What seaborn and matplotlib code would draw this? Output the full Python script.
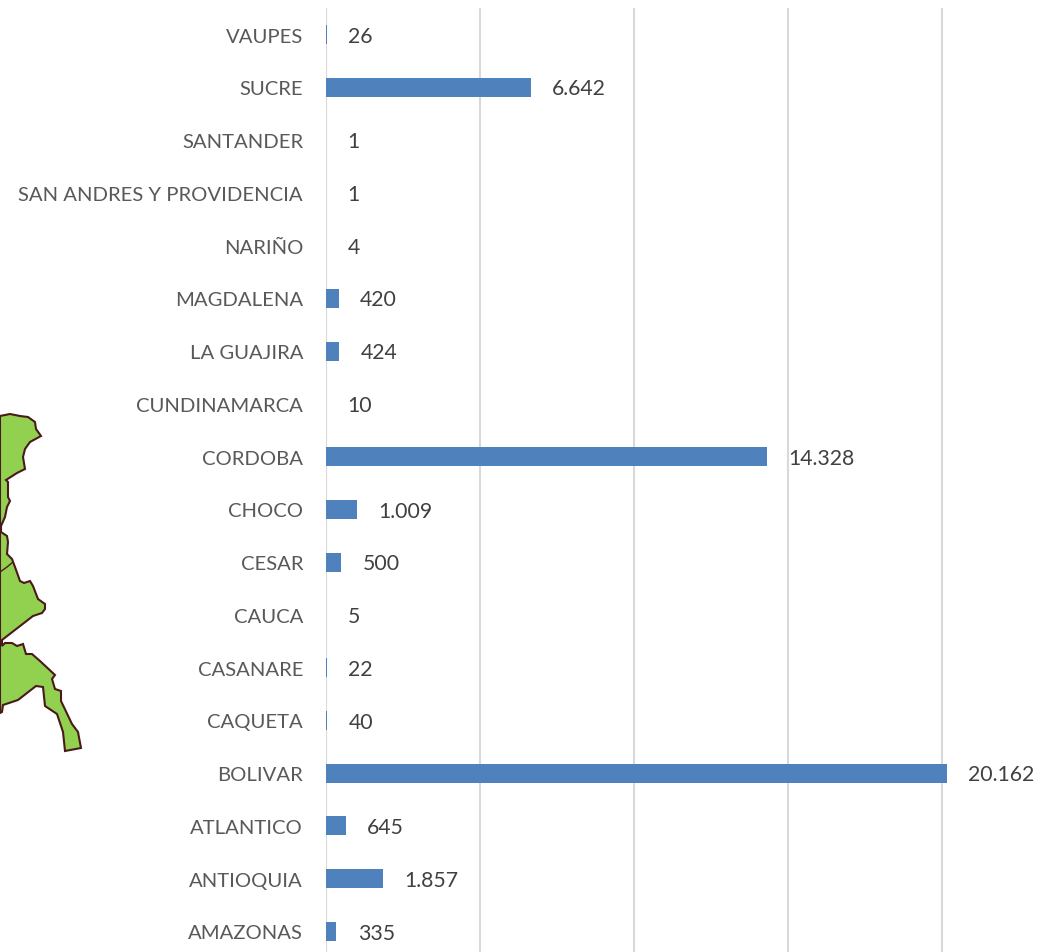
import matplotlib
matplotlib.use("Agg")
import matplotlib.pyplot as plt
import seaborn as sns
import pandas as pd
from matplotlib.patches import Polygon

departments = ["VAUPES", "SUCRE", "SANTANDER", "SAN ANDRES Y PROVIDENCIA", "NARIÑO",
               "MAGDALENA", "LA GUAJIRA", "CUNDINAMARCA", "CORDOBA", "CHOCO", "CESAR",
               "CAUCA", "CASANARE", "CAQUETA", "BOLIVAR", "ATLANTICO", "ANTIOQUIA", "AMAZONAS"]
values = [26, 6642, 1, 1, 4, 420, 424, 10, 14328, 1009, 500, 5, 22, 40, 20162, 645, 1857, 335]
value_labels = ["26", "6.642", "1", "1", "4", "420", "424", "10", "14.328", "1.009", "500",
                "5", "22", "40", "20.162", "645", "1.857", "335"]

# Decorative map fragment, traced in reference pixels
map_outline = [(0,417),(10,415),(20,417),(28,418),(35,423),(36,430),(41,437),(30,443),(25,450),
               (23,458),(25,470),(17,474),(6,481),(8,483),(8,498),(10,502),(7,508),(5,518),(1,527),
               (1,533),(7,537),(8,543),(7,555),(12,560),(15,568),(20,582),(24,584),(30,582),(33,587),
               (38,600),(45,605),(45,610),(42,614),(33,617),(2,641),(2,647),(5,644),(12,644),(17,647),
               (23,645),(26,655),(32,655),(40,662),(55,676),(52,680),(55,690),(61,692),(61,702),
               (72,725),(78,733),(81,749),(65,752),(63,733),(57,715),(45,707),(43,688),(36,687),
               (18,701),(3,706),(2,713),(0,714)]
map_border = [(0,573),(7,568),(13,563)]

W, H, DPI = 1040, 953, 100
sns.set_theme(style="white")
plt.rcParams["font.family"] = ["Lato", "DejaVu Sans"]

fig = plt.figure(figsize=(W / DPI, H / DPI), dpi=DPI, facecolor="white")

bg = fig.add_axes([0, 0, 1, 1], zorder=0)
bg.set_xlim(0, W)
bg.set_ylim(H, 0)
bg.axis("off")
bg.add_patch(Polygon(map_outline, closed=True, facecolor="#92D050", edgecolor="#4A1A1A", linewidth=1.5))
bg.plot(*zip(*map_border), color="#4A1A1A", linewidth=1.0)

# Axes: x=0 at 326 px, 5000 units = 154 px; rows are 52.76 px and the last is cut by the figure
x_max = 22000
top_px = 9.2
ax = fig.add_axes([326 / W, 0, x_max * 154 / 5000 / W, (H - top_px) / H], zorder=1)
ax.patch.set_alpha(0)
df = pd.DataFrame({"dep": departments, "val": values})
sns.barplot(data=df, x="val", y="dep", orient="h", color="#4F81BD", saturation=1,
            width=0.36, ax=ax, zorder=3, linewidth=0, edgecolor="none")
ax.set_xlim(0, x_max)
rows = (H - top_px) / 52.76
ax.set_ylim(rows - 0.5, -0.5)
ax.set_xticks([0, 5000, 10000, 15000, 20000])
ax.xaxis.grid(True, color="#D9D9D9", linewidth=1.5, zorder=0)
ax.yaxis.grid(False)
ax.set_axisbelow(True)
ax.spines[["top", "right", "bottom", "left"]].set_visible(False)
ax.tick_params(axis="x", length=0, labelbottom=False)
ax.tick_params(axis="y", length=0, pad=16.5, labelsize=14.6, labelcolor="#595959")
ax.set_xlabel("")
ax.set_ylabel("")

for i, (v, t) in enumerate(zip(values, value_labels)):
    ax.annotate(t, xy=(v, i), xytext=(15.3, -0.8), textcoords="offset points",
                ha="left", va="center", fontsize=15.3, color="#404040", annotation_clip=False)

fig.savefig("out.png", dpi=DPI)
